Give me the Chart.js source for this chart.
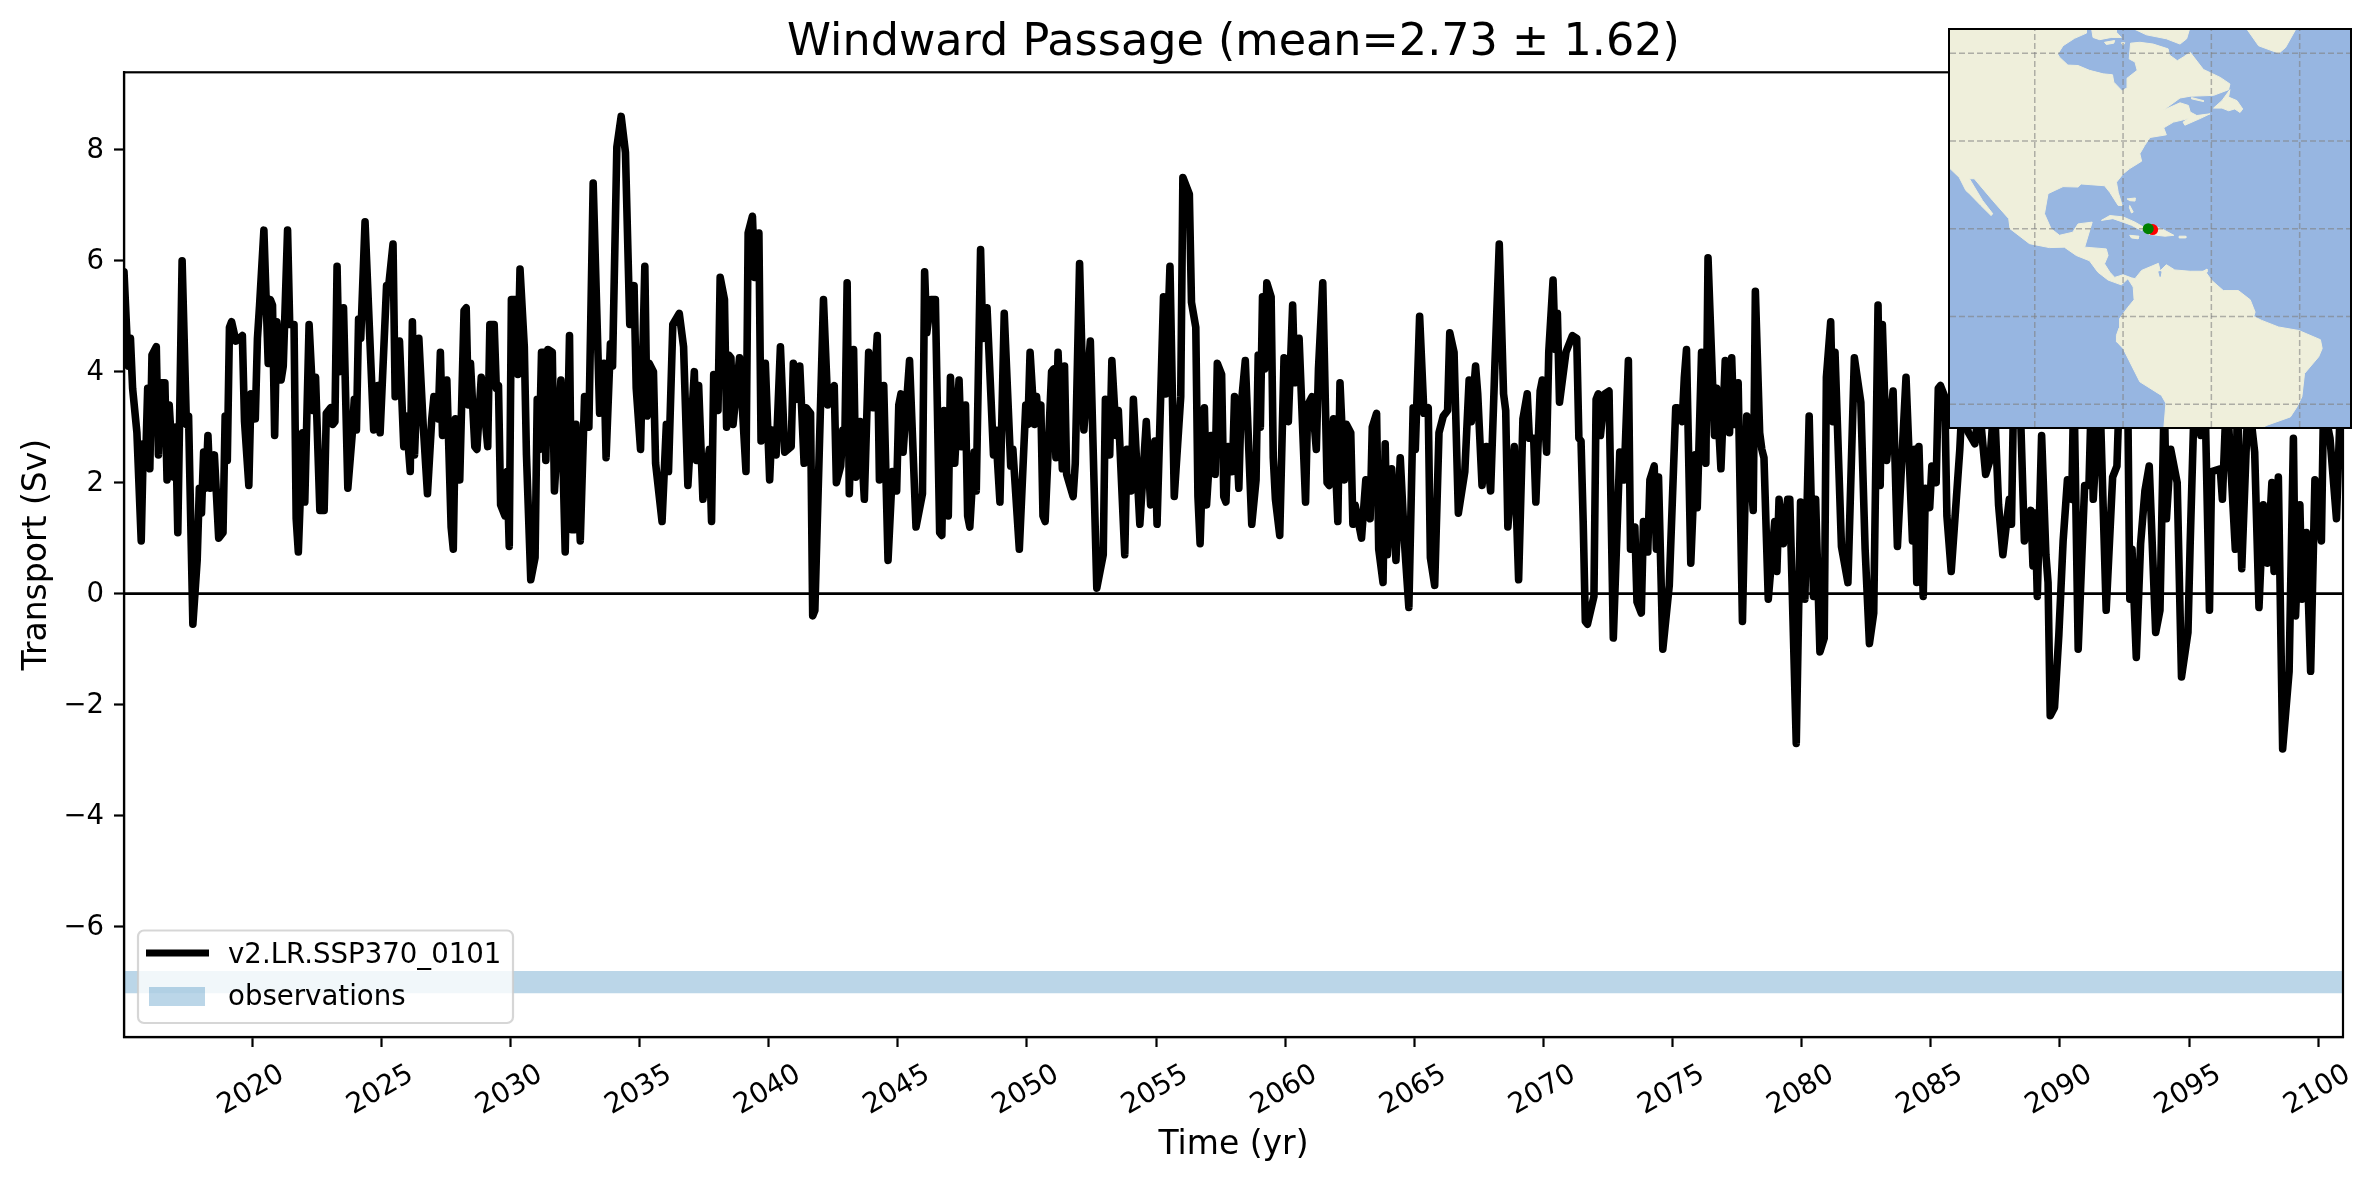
<!DOCTYPE html>
<html><head><meta charset="utf-8">
<script src="https://cdn.jsdelivr.net/npm/chart.js@4/dist/chart.umd.min.js"></script>
<style>
html,body{margin:0;padding:0;background:#fff;}
#wrap{position:relative;width:2376px;height:1180px;overflow:hidden;}
#main{position:absolute;left:0;top:0;}
#inset{position:absolute;left:1950px;top:30px;width:400px;height:397px;background:#97B6E1;outline:2.4px solid #000;}
#map{display:block;}
</style></head><body>
<div id="wrap">
<canvas id="main" width="2376" height="1180"></canvas>
<div id="inset"><canvas id="map" width="400" height="397"></canvas></div>
</div>
<script>
// ---------- chart text ----------
const chartTitle = 'Windward Passage (mean=2.73 ± 1.62)';
const xTitle = 'Time (yr)';
const yTitle = 'Transport (Sv)';
const seriesLabel = 'v2.LR.SSP370_0101';
const bandLabel = 'observations';

// ---------- axes ----------
const xTicks = [2020,2025,2030,2035,2040,2045,2050,2055,2060,2065,2070,2075,2080,2085,2090,2095,2100];
const yTicks = [-6,-4,-2,0,2,4,6,8];
const xRange = [2015.04, 2100.96];
const yRange = [-7.99, 9.395];
const firstYear = 2015.04;

// ---------- observation band (Sv) ----------
const observedBand = [-6.8, -7.2];
const zeroLine = [0, 0];

// ---------- transport series: months since the first sample, read at the turning points ----------
const months = [
0,2,3,4,6,8,9,10,11,12,
13,15,16,17,19,20,21,23,24,25,
27,29,30,32,34,35,36,37,38,39,
40,42,44,46,47,48,49,50,52,55,
56,58,59,61,62,63,65,67,68,69,
70,71,73,74,76,77,79,80,81,83,
84,86,88,89,91,93,94,96,97,98,
99,100,102,104,106,107,108,109,110,112,
114,116,118,119,122,123,125,126,128,130,
131,133,134,135,137,139,141,143,144,146,
147,148,150,152,153,154,156,158,159,160,
161,163,164,166,169,170,172,173,174,175,
177,178,179,180,182,183,184,186,187,189,
191,192,193,194,195,196,197,199,200,203,
205,207,208,209,210,212,214,216,218,221,
223,224,226,227,229,231,233,235,237,238,
240,242,243,244,246,247,250,252,253,255,
258,260,262,265,266,267,269,272,273,274,
276,277,279,280,281,282,283,286,289,290,
292,293,295,296,298,300,301,303,305,307,
310,311,312,314,316,317,319,320,321,323,
325,327,330,331,333,334,335,336,337,339,
340,342,344,346,348,350,351,353,355,357,
359,360,361,362,365,368,371,372,373,375,
377,379,380,381,383,384,386,388,389,391,
392,393,395,396,398,399,401,404,405,407,
409,412,413,416,419,420,421,423,424,425,
426,427,428,431,432,433,434,436,437,438,
441,442,444,446,449,452,455,456,458,459,
461,462,465,466,468,469,472,475,477,479,
480,483,484,486,488,491,492,495,496,498,
499,500,502,503,505,506,507,508,510,511,
512,513,515,516,518,519,521,524,526,527,
528,529,530,531,533,534,535,537,539,541,
543,544,546,549,550,552,554,555,557,559,
560,562,564,565,567,568,570,571,572,575,
577,579,580,582,583,585,586,587,589,591,
593,595,597,599,600,602,604,606,607,609,
611,613,615,616,618,620,623,625,626,628,
629,631,633,635,637,639,641,642,643,646,
648,650,652,653,655,656,658,659,661,662,
664,665,666,667,670,673,675,676,677,678,
679,680,683,684,685,686,688,690,692,695,
697,699,700,702,703,705,706,708,709,711,
712,713,715,718,721,722,724,725,726,728,
730,731,733,735,736,739,740,742,744,746,
747,748,750,752,754,757,758,760,761,762,
764,767,768,769,771,773,774,777,779,781,
783,785,786,788,790,791,793,794,795,798,
801,804,807,809,811,813,815,816,817,819,
822,824,828,831,832,833,834,836,837,839,
840,842,843,844,846,847,849,853,854,857,
860,862,865,867,869,871,873,876,877,878,
881,883,886,887,888,889,891,893,894,895,
897,899,901,903,905,906,908,911,913,914,
915,918,921,924,926,927,931,932,933,935,
937,939,941,944,946,948,949,951,954,956,
959,960,962,965,967,969,970,974,975,977,
981,982,984,987,990,992,994,996,998,999,
1001,1003,1006,1008,1009,1011,1012,1014,1016,1018,
1021,1022,1025,1028,1030,1031];
const transport = [
5.8,4.1,4.6,3.7,2.9,0.95,2.7,2.3,3.7,2.25,
4.3,4.45,2.5,3.8,3.8,2.05,3.4,2.1,3.0,1.1,
6.0,3.05,3.2,-0.55,0.6,1.9,1.45,2.55,1.9,2.85,
1.9,2.5,1.0,1.1,3.2,2.4,4.8,4.9,4.55,4.65,
3.1,1.95,3.6,3.15,4.6,5.2,6.55,4.15,5.3,5.2,
2.85,4.9,3.85,4.1,6.55,4.85,4.85,1.35,0.75,2.9,
1.65,4.85,3.3,3.9,1.5,1.5,3.25,3.35,3.05,3.1,
5.9,4.0,5.15,1.9,2.85,3.5,2.95,4.95,4.6,6.7,
4.8,2.95,3.75,2.9,5.55,5.55,6.3,3.55,4.55,2.65,
3.2,2.2,4.9,2.5,4.6,3.05,1.8,3.15,3.55,3.15,
4.35,2.85,3.85,1.2,0.8,3.15,2.05,5.1,5.15,3.4,
4.15,2.65,2.6,3.9,2.65,4.85,4.85,3.7,3.75,1.6,
1.4,2.2,0.85,5.3,5.3,3.95,5.85,4.45,2.5,0.25,
0.65,3.5,2.6,4.35,4.35,2.4,4.4,4.35,1.85,3.85,
0.75,4.65,1.15,1.15,3.05,0.95,3.55,3.0,7.4,3.25,
4.15,2.45,4.5,4.1,8.05,8.6,7.95,4.85,5.55,3.7,
2.6,5.9,3.2,4.15,4.0,2.35,1.3,3.05,2.2,4.85,
5.05,4.45,1.95,4.0,2.4,3.75,1.7,2.6,1.3,3.95,
3.3,5.7,5.3,3.0,4.3,4.25,3.05,4.25,2.2,6.5,
6.8,5.7,6.5,2.75,4.15,2.05,2.95,2.5,4.45,2.55,
2.65,4.15,3.5,4.1,2.35,3.35,3.25,-0.4,-0.3,2.5,
5.3,3.4,3.75,2.0,2.3,2.95,2.95,5.6,1.8,4.4,
2.1,3.1,1.7,4.35,3.35,4.65,2.05,3.75,0.6,2.2,
1.85,3.4,3.6,2.55,4.2,1.2,1.8,5.8,4.7,5.3,
5.3,1.1,1.05,3.3,1.4,3.9,2.35,3.85,2.65,3.4,
1.4,1.2,2.55,1.85,6.2,4.6,5.15,2.5,2.95,1.65,
5.05,2.3,2.6,0.8,3.4,3.05,4.35,3.05,3.55,3.1,
3.4,1.4,1.3,4.0,4.05,2.45,4.35,2.25,4.1,2.15,
1.75,2.35,5.95,2.95,4.55,0.1,0.7,3.5,2.5,4.2,
2.85,3.3,0.7,2.6,1.85,3.5,1.25,3.1,1.6,2.75,
1.25,5.35,3.6,5.9,1.75,3.55,7.5,7.2,5.25,4.8,
1.75,0.9,3.35,1.6,2.85,2.85,2.15,4.15,3.95,1.75,
1.65,2.65,2.2,3.55,1.9,3.35,4.2,1.25,2.05,4.3,
3.0,5.35,4.05,5.6,5.35,2.45,1.7,1.05,4.25,3.1,
5.2,3.8,4.6,1.65,3.4,3.55,2.6,4.05,5.6,2.0,
1.95,3.15,1.3,3.8,2.05,3.05,2.9,1.25,1.6,1.0,
2.05,1.35,3.0,3.25,0.8,0.2,2.7,0.7,2.25,0.6,
2.45,0.9,-0.25,3.35,2.6,5.0,3.25,3.35,0.65,0.15,
2.9,3.2,3.3,4.7,4.35,1.45,2.2,3.85,3.1,4.1,
3.6,1.95,2.65,1.85,4.15,6.3,3.6,3.3,1.2,2.65,
0.25,3.15,3.6,2.8,2.8,1.65,3.65,3.85,2.55,4.35,
5.65,4.4,5.05,3.45,4.35,4.65,4.6,2.8,2.75,1.3,
-0.5,-0.55,-0.05,3.5,3.6,2.85,3.6,3.65,-0.8,2.55,
2.05,4.2,0.8,1.2,-0.15,-0.35,1.3,0.75,2.05,2.3,
0.8,2.1,-1.0,0.15,3.35,3.35,3.1,3.9,4.4,0.55,
2.5,1.55,4.35,2.35,6.05,2.85,3.7,2.25,4.2,2.9,
4.25,3.05,3.8,-0.5,3.2,1.5,5.45,2.9,2.6,2.45,
-0.1,1.3,0.4,1.7,0.9,1.7,1.7,-2.7,1.65,-0.1,
3.2,-0.05,1.7,-1.05,-0.8,3.9,4.9,3.1,4.35,0.85,
0.2,4.25,3.45,0.8,-0.9,-0.35,5.2,1.95,4.85,2.4,
3.65,0.85,3.9,0.95,2.6,0.2,2.65,-0.05,1.9,1.55,
2.3,2.0,3.7,3.75,3.55,1.4,0.4,2.6,3.4,2.9,
2.7,3.4,2.15,2.4,3.5,1.6,0.7,1.7,1.25,3.6,
3.5,0.95,1.5,0.5,1.45,-0.05,2.85,0.7,0.2,-2.2,
-2.05,-0.75,0.95,2.05,1.7,3.8,-1.0,1.95,1.95,3.4,
1.7,3.7,-0.3,2.1,2.3,3.5,3.6,-0.1,0.8,-1.15,
0.9,1.85,2.3,-0.7,-0.3,3.6,1.35,2.6,2.0,-1.5,
-0.7,0.85,3.6,2.85,3.4,-0.3,2.2,2.25,1.7,3.7,
0.8,3.6,0.45,3.6,2.55,-0.25,1.6,0.55,2.0,0.4,
2.1,-2.8,-1.4,2.8,-0.4,1.6,-0.1,1.1,-1.4,2.05,
0.95,3.4,2.8,1.35,3.6,2.95];

// ---------- inset map: outlines in degrees [lon, lat] ----------
const lonTicks = [-100,-80,-60,-40];
const latTicks = [-20,0,20,40,60];
const lonRange = [-119.2,-28.6];
const latRange = [-25.2,65.3];
const americas = [[-125,70],[-88.3,70],[-88.3,64.6],[-91,63.4],[-93.6,61.7],[-94.8,59.8],[-94.4,59.1],[-92.5,57.3],[-90.2,57.2],[-87.6,56.1],[-84.5,55.3],[-82.4,55.1],[-82.1,53.4],[-80.2,51.4],[-78.9,52.3],[-79.1,54.3],[-76.8,56.1],[-77.3,58],[-78.6,58.7],[-78.3,62.3],[-76.2,62.5],[-73.2,62.1],[-69.8,61],[-69.5,59.6],[-67.7,58.3],[-66.4,59.1],[-64.8,60.2],[-61.8,56.3],[-58,54.5],[-55.8,53],[-56.1,51.7],[-59.5,50.4],[-64.8,50.2],[-67.1,49.8],[-70.9,47],[-67.1,48.7],[-65.2,48.1],[-64.8,46.6],[-63.3,45.8],[-60.3,46.2],[-62.6,45.1],[-66,43.6],[-66.4,44.3],[-65.2,45.1],[-68.6,44.3],[-70.8,43],[-70.2,41.4],[-73.9,40.8],[-75.1,39],[-76.2,37.1],[-75.8,35.4],[-78.5,33.7],[-80,32.5],[-81.5,30.6],[-81.1,28.3],[-80.2,25.3],[-81.1,25.3],[-83,28.3],[-84.2,29.8],[-89.5,30.2],[-90.2,29.5],[-93.6,29.6],[-97,28],[-97.8,23.4],[-96.3,20],[-94.4,18.5],[-91.4,19.2],[-90.2,21.1],[-87,21.5],[-88.7,15.8],[-83.8,15.4],[-83.4,13.9],[-84.2,12],[-83,10.1],[-81.9,8.9],[-80,9.5],[-78.1,8.8],[-77.3,8.6],[-75.8,10.5],[-72,12.1],[-71.6,10.4],[-70.2,11.8],[-68.3,10.6],[-64.8,10.3],[-61.4,10.3],[-59.9,8.2],[-57.3,5.9],[-53.9,5.9],[-51.2,3.8],[-50.1,1],[-50.4,0],[-48.6,-0.9],[-44.8,-2.4],[-40.2,-3.2],[-35.3,-5.3],[-34.9,-7.3],[-35.7,-9.2],[-38.9,-13],[-39.5,-18.3],[-40.6,-20.6],[-42.1,-22.9],[-47.4,-24.8],[-49.7,-25.9],[-70.8,-25.9],[-70.3,-19.8],[-71.3,-18],[-76.2,-14.9],[-80,-7.3],[-81.4,-5.8],[-81.5,-4.3],[-80.9,-2.6],[-80.8,-0.5],[-78.9,2.1],[-77.5,3.8],[-77.7,6.7],[-78.9,8.6],[-80.4,7.2],[-83.4,8.3],[-85.7,10.1],[-87.6,12.7],[-90.6,13.9],[-93.3,15.8],[-96.7,15.7],[-101.2,16.6],[-105.6,20],[-105.9,22.3],[-109.5,26.4],[-113.7,31.4],[-114.8,31.4],[-111.8,26.4],[-109.5,23.4],[-109.9,23],[-112.2,25.3],[-114.8,28],[-115.6,28.7],[-117.1,31.7],[-119.4,33.9],[-125,34],[-125,70]];
const baffin = [[-78.5,66],[-64.8,66],[-65.6,63.3],[-67.1,62.1],[-70.2,63.3],[-74.7,64.2],[-78.5,66]];
const southampton = [[-87.2,66],[-81.5,66],[-81.5,64.8],[-80.4,63.6],[-82.7,63.6],[-85.3,63.1],[-86.8,63.6],[-87.2,66]];
const coats = [[-84.2,62.5],[-81.9,62.9],[-82.1,62.3],[-83.8,62],[-84.2,62.5]];
const mansel = [[-80.4,62.4],[-79.6,62.4],[-80,61.8],[-80.4,62.4]];
const greenland = [[-52.3,66],[-49.3,61.7],[-44.7,60],[-43.2,61.3],[-40.6,66],[-52.3,66]];
const newfoundland = [[-59.5,47.5],[-57.6,49.2],[-55.8,51.7],[-56.1,50],[-54.2,49.2],[-52.9,47.3],[-53.5,46.5],[-54.7,47.3],[-56.1,46.9],[-57.6,47.5],[-59.5,47.5]];
const anticosti = [[-64.5,49.9],[-61.8,49.2],[-61.8,49],[-64.5,49.6],[-64.5,49.9]];
const cuba = [[-84.9,21.9],[-83,23],[-80,22.7],[-77.3,21.5],[-75.1,20.2],[-75.8,19.6],[-78.1,20.8],[-80,21.5],[-82.3,22.3],[-84.9,21.9]];
const hispaniola = [[-74.7,19],[-73.2,20.7],[-70.9,19.8],[-68.5,18.5],[-70.5,18.3],[-72.4,18.5],[-73.9,18.7],[-74.7,19]];
const jamaica = [[-78.5,18.5],[-76.4,18.3],[-76.6,17.7],[-78.1,17.9],[-78.5,18.5]];
const puertoRico = [[-67.3,18.3],[-65.8,18.3],[-65.8,17.9],[-67.3,17.9],[-67.3,18.3]];
const grandBahama = [[-79.1,26.8],[-77.2,27],[-77.3,26.3],[-78.5,26.4],[-79.1,26.8]];
const andros = [[-78.5,25.3],[-77.7,23.8],[-78.1,23.6],[-78.6,24.9],[-78.5,25.3]];
const trinidad = [[-62.2,10.1],[-61,10.8],[-61,10.1],[-62.2,10.1]];
const landShapes = [americas,baffin,southampton,coats,mansel,greenland,newfoundland,anticosti,cuba,hispaniola,jamaica,puertoRico,grandBahama,andros,trinidad];
const maracaibo = [[-71.9,10.2],[-71.4,10.2],[-71.6,9.1],[-71.9,10.2]];
const modelPoint = [[-73.3,19.8]];
const obsPoint = [[-74.3,20]];

// ---------- styles ----------
const FONT = "'DejaVu Sans'";
const LAND = '#EFEFDB', OCEAN = '#97B6E1';
const BAND = 'rgba(31,119,180,0.3)';

const series = months.map((m,i)=>({x:firstYear+m/12,y:transport[i]}));
const edgeLine = ys => xRange.map((x,i)=>({x,y:ys[i]}));

const frameAndLegend = {
  id:'frameAndLegend',
  afterDatasetsDraw(chart){
    const {ctx,chartArea:a} = chart;
    ctx.save();
    ctx.strokeStyle='#000'; ctx.lineWidth=2.2;
    ctx.strokeRect(a.left,a.top,a.right-a.left,a.bottom-a.top);
    // legend
    ctx.beginPath(); ctx.roundRect(138,930.5,375,92.5,6);
    ctx.fillStyle='rgba(255,255,255,0.8)'; ctx.fill();
    ctx.strokeStyle='rgba(204,204,204,0.8)'; ctx.lineWidth=2.2; ctx.stroke();
    ctx.strokeStyle='#000'; ctx.lineWidth=7;
    ctx.beginPath(); ctx.moveTo(146,953); ctx.lineTo(209,953); ctx.stroke();
    ctx.fillStyle=BAND; ctx.fillRect(149,987,56,19);
    ctx.fillStyle='#000'; ctx.font='27.6px '+FONT; ctx.textAlign='left'; ctx.textBaseline='alphabetic';
    ctx.fillText(seriesLabel,228,963);
    ctx.fillText(bandLabel,228,1005);
    ctx.restore();
  }
};

new Chart(document.getElementById('main'),{
  type:'scatter',
  plugins:[frameAndLegend],
  data:{datasets:[
    {label:seriesLabel,data:series,showLine:true,borderColor:'#000',borderWidth:7.6,pointRadius:0,tension:0,borderJoinStyle:'round',borderCapStyle:'round',order:1},
    {label:'zero',data:edgeLine(zeroLine),showLine:true,borderColor:'#000',borderWidth:2.75,pointRadius:0,order:2},
    {label:bandLabel,data:edgeLine([observedBand[0],observedBand[0]]),showLine:true,borderWidth:0,pointRadius:0,backgroundColor:BAND,fill:'+1',order:3},
    {label:'bandLow',data:edgeLine([observedBand[1],observedBand[1]]),showLine:true,borderWidth:0,pointRadius:0,order:3}
  ]},
  options:{
    responsive:false,animation:false,events:[],
    layout:{autoPadding:false,padding:{left:0,right:33,top:0,bottom:0}},
    plugins:{
      legend:{display:false},tooltip:{enabled:false},
      title:{display:true,text:chartTitle,color:'#000',fullSize:false,font:{family:FONT,size:44.5,weight:'normal',lineHeight:1.2},padding:{top:16.5,bottom:2.4}}
    },
    scales:{
      x:{type:'linear',min:xRange[0],max:xRange[1],
        afterBuildTicks(s){s.ticks=xTicks.map(v=>({value:v}));},
        afterFit(s){s.height=143;},
        title:{display:true,text:xTitle,color:'#000',font:{family:FONT,size:33,lineHeight:1.2},padding:{top:0,bottom:15}},
        ticks:{autoSkip:false,minRotation:30,maxRotation:30,color:'#000',font:{family:FONT,size:28},padding:11,labelOffset:30,callback:v=>String(v)},
        grid:{drawOnChartArea:false,drawTicks:true,tickLength:10,tickWidth:2.2,tickColor:'#000'},
        border:{display:true,color:'#000',width:2.2}
      },
      y:{type:'linear',min:yRange[0],max:yRange[1],
        afterBuildTicks(s){s.ticks=yTicks.map(v=>({value:v}));},
        afterFit(s){s.width=124;},
        title:{display:true,text:yTitle,color:'#000',font:{family:FONT,size:33,lineHeight:1.2},padding:{top:18,bottom:0}},
        ticks:{color:'#000',font:{family:FONT,size:27.5},padding:10,labelOffset:1.5,callback:v=>String(v).replace('-','\u2212')},
        grid:{drawOnChartArea:false,drawTicks:true,tickLength:10,tickWidth:2.2,tickColor:'#000'},
        border:{display:true,color:'#000',width:2.2}
      }
    }
  }
});

const toXY = list => list.map(p=>({x:p[0],y:p[1]}));
const polygon = (list,color) => ({data:toXY(list),showLine:true,fill:'shape',backgroundColor:color,borderColor:color,borderWidth:1,pointRadius:0,tension:0});
const dot = (list,color) => ({data:toXY(list),showLine:false,pointRadius:5.5,pointBackgroundColor:color,pointBorderColor:color,pointBorderWidth:0});
const gridLine = list => ({data:toXY(list),showLine:true,borderColor:'rgba(128,128,128,0.6)',borderWidth:1.5,borderDash:[6,3],pointRadius:0});
const meridians = lonTicks.map(lon=>gridLine(latRange.map(lat=>[lon,lat])));
const parallels = latTicks.map(lat=>gridLine(lonRange.map(lon=>[lon,lat])));

new Chart(document.getElementById('map'),{
  type:'scatter',
  data:{datasets:[
    dot(obsPoint,'#008000'),
    dot(modelPoint,'#ff0000'),
    ...meridians,
    ...parallels,
    polygon(maracaibo,OCEAN),
    ...landShapes.map(s=>polygon(s,LAND))
  ].map((d,i)=>Object.assign(d,{order:i}))},
  options:{
    responsive:false,animation:false,events:[],
    layout:{autoPadding:false,padding:0},
    plugins:{legend:{display:false},tooltip:{enabled:false},title:{display:false}},
    scales:{
      x:{type:'linear',display:false,min:lonRange[0],max:lonRange[1]},
      y:{type:'linear',display:false,min:latRange[0],max:latRange[1]}
    }
  }
});
</script>
</body></html>
